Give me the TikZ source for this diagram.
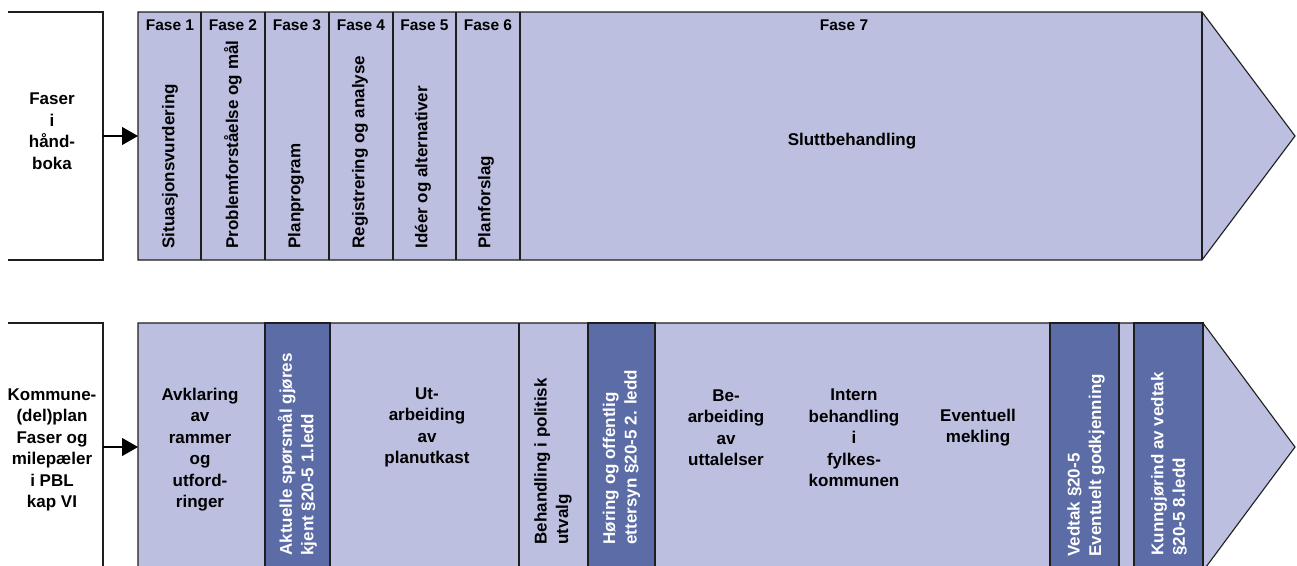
\documentclass[tikz,border=0pt]{standalone}
\usepackage{fontspec}
\setmainfont{Liberation Sans}
\usetikzlibrary{arrows.meta}
\definecolor{lightc}{RGB}{189,191,225}
\definecolor{darkc}{RGB}{91,108,166}
\definecolor{linec}{RGB}{30,30,30}
\begin{document}
\begin{tikzpicture}[x=1pt,y=-1pt,line width=1.1pt,
  lbl/.style={font=\bfseries\fontsize{17}{21.5}\selectfont,align=center,inner sep=0pt},
  hdr/.style={font=\bfseries\fontsize{15.5}{19}\selectfont,inner sep=0pt},
  vtxt/.style={font=\bfseries\fontsize{17}{21.5}\selectfont,rotate=90,anchor=west,align=left,inner sep=0pt},
  wtxt/.style={vtxt,text=white},
  outl/.style={draw=linec},
  arr/.style={draw=black,line width=1.1pt,-{Triangle[length=16pt,width=18pt]}}]
\useasboundingbox (0,0) rectangle (1297,565);
% ---------- top row ----------
\draw[outl] (8,12) -- (103,12) -- (103,260) -- (8,260);
\filldraw[fill=lightc,outl] (138,12) -- (1202,12) -- (1295,136) -- (1202,260) -- (138,260) -- cycle;
\foreach \xx in {201,265,329,393,456,520,1202}
  \draw[outl] (\xx,12) -- (\xx,260);
\node[lbl] (faser) at (52,131) {Faser\\i\\hånd-\\boka};
\coordinate (a1s) at (103,136);
\coordinate (a1e) at (138,136);
\draw[arr] (a1s) -- (a1e);
\node[hdr] (f1) at (170,25) {Fase 1};
\node[hdr] (f2) at (233,25) {Fase 2};
\node[hdr] (f3) at (297,25) {Fase 3};
\node[hdr] (f4) at (361,25) {Fase 4};
\node[hdr] (f5) at (424.5,25) {Fase 5};
\node[hdr] (f6) at (488,25) {Fase 6};
\node[hdr] (f7) at (844,25) {Fase 7};
\node[vtxt] (t1) at (170,249) {Situasjonsvurdering};
\node[vtxt] (t2) at (233,249) {Problemforståelse og mål};
\node[vtxt] (t3) at (296,249) {Planprogram};
\node[vtxt] (t4) at (360,249) {Registrering og analyse};
\node[vtxt] (t5) at (423,249) {Idéer og alternativer};
\node[vtxt] (t6) at (486,249) {Planforslag};
\node[lbl] (t7) at (852,141) {Sluttbehandling};
% ---------- bottom row ----------
\draw[outl] (8,323) -- (103,323) -- (103,575);
\filldraw[fill=lightc,outl] (138,323) -- (1203,323) -- (1295,447) -- (1203,571) -- (138,571) -- cycle;
\filldraw[fill=darkc,outl] (265,323) rectangle (330,571);
\filldraw[fill=darkc,outl] (588,323) rectangle (655,571);
\filldraw[fill=darkc,outl] (1050,323) rectangle (1119,571);
\filldraw[fill=darkc,outl] (1134,323) rectangle (1203,571);
\draw[outl] (519,323) -- (519,571);
\node[lbl] (kom) at (52,450) {Kommune-\\(del)plan\\Faser og\\milepæler\\i PBL\\kap VI};
\coordinate (a2s) at (103,447);
\coordinate (a2e) at (138,447);
\draw[arr] (a2s) -- (a2e);
\node[lbl] (b1) at (200,449.5) {Avklaring\\av\\rammer\\og\\utford-\\ringer};
\node[wtxt] (b2) at (297.5,556) {Aktuelle spørsmål gjøres\\kjent §20-5 1.ledd};
\node[lbl] (b3) at (427,427.5) {Ut-\\arbeiding\\av\\planutkast};
\node[vtxt] (b4) at (553,545) {Behandling i politisk\\utvalg};
\node[wtxt] (b5) at (621.5,545) {Høring og offentlig\\ettersyn §20-5 2. ledd};
\node[lbl] (b6) at (726,427.5) {Be-\\arbeiding\\av\\uttalelser};
\node[lbl] (b7) at (854,438) {Intern\\behandling\\i\\fylkes-\\kommunen};
\node[lbl] (b8) at (978,427.5) {Eventuell\\mekling};
\node[wtxt] (b9) at (1086,557) {Vedtak §20-5\\Eventuelt godkjenning};
\node[wtxt] (b10) at (1169,556) {Kunngjørind av vedtak\\§20-5 8.ledd};
\end{tikzpicture}
\end{document}
